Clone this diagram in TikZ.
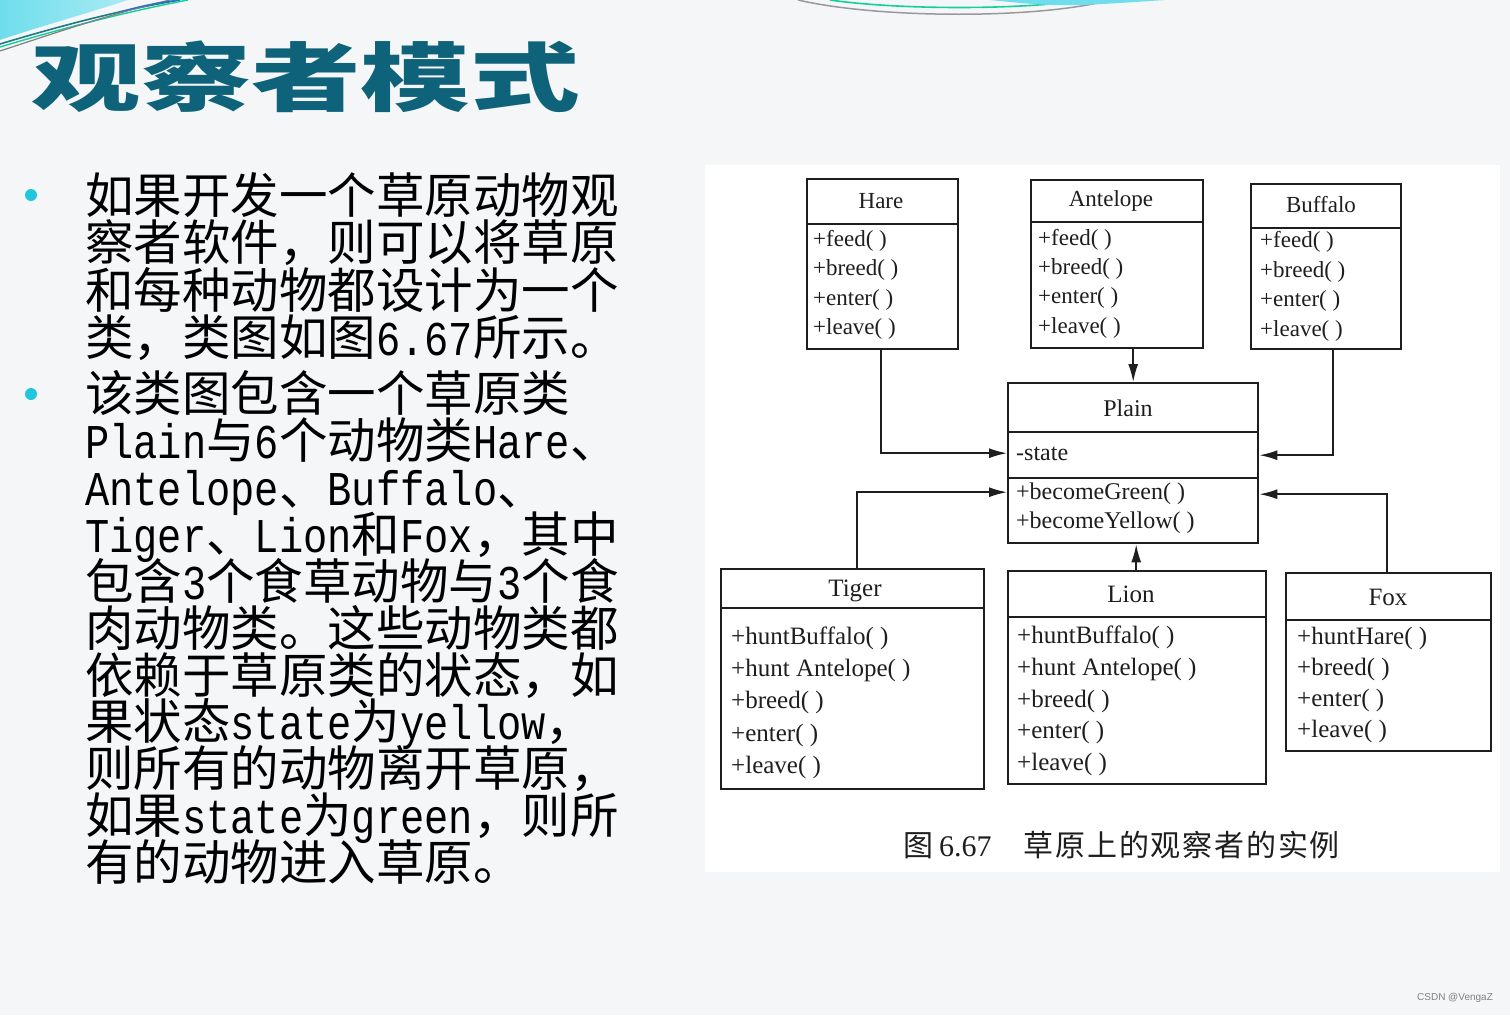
\documentclass[tikz,border=0pt]{standalone}
\usepackage{fontspec}
\usetikzlibrary{arrows.meta}
\newfontfamily\cjk{Noto Sans CJK SC}
\newfontfamily\hw[FakeStretch=0.833]{Liberation Mono}
\newfontfamily\umlf{Liberation Serif}
\newfontfamily\wmf{Liberation Sans}
\definecolor{titlec}{HTML}{0E6279}
\definecolor{bulletc}{HTML}{1FC6DC}
\definecolor{bgc}{HTML}{F4F6F7}
\definecolor{swcyan}{HTML}{6FDDEC}
\definecolor{swgreen}{HTML}{14CF98}
\definecolor{swteal}{HTML}{1C7C86}
\definecolor{swblue}{HTML}{2F6FD0}
\definecolor{ink}{HTML}{1E1E1E}
\begin{document}
\begin{tikzpicture}[x=1pt,y=-1pt,
  box/.style={draw=ink, line width=2.4pt, inner sep=0pt, anchor=north west},
  divl/.style={draw=ink, line width=2.4pt},
  cname/.style={font=\umlf\fontsize{23}{23}\selectfont, text=ink, inner sep=0pt},
  meth/.style={font=\umlf\fontsize{23}{23}\selectfont, anchor=west, inner sep=0pt, text=ink},
  bmeth/.style={font=\umlf\fontsize{25}{25}\selectfont, anchor=west, inner sep=0pt, text=ink},
  arr/.style={line width=1.6pt, draw=ink, -{Latex[length=18pt,width=10pt]}},
  body/.style={font=\cjk\fontsize{48.5}{48.5}\selectfont, anchor=base west, inner sep=0pt, text=black},
  bul/.style={circle, fill=bulletc, minimum size=12pt, inner sep=0pt},
]
\useasboundingbox (0,0) rectangle (1510,1015);
\fill[bgc] (0,0) rectangle (1510,1015);
\fill[white] (705,165) rectangle (1500,872);

% top-left swoosh
\shade[left color=swcyan, right color=swcyan!60] (0,0) -- (128,0) .. controls (85,14) and (35,28) .. (0,40) -- cycle;
\draw[swteal, line width=1.6pt] (0,44) .. controls (60,26) and (120,10) .. (180,0);
\draw[swgreen, line width=1.4pt] (0,47) .. controls (60,29) and (125,12) .. (188,0);
\draw[gray, line width=1.2pt] (0,51) .. controls (55,33) and (110,14) .. (170,0);
\draw[swblue, line width=1.2pt] (120,12) .. controls (140,6) and (160,2) .. (180,0);
% top-centre swoosh
\draw[gray!80, line width=1.5pt] (798,0) .. controls (880,19) and (1040,19) .. (1110,0);
\draw[swgreen, line width=1.6pt] (830,0) .. controls (900,10) and (1020,10) .. (1085,0);
\fill[swcyan] (990,0) .. controls (1060,7) .. (1165,0) -- cycle;

% title
\node[text=titlec, font=\cjk\bfseries\fontsize{85}{85}\selectfont, inner sep=0pt] (title) at (306,77) {\scalebox{1.29}[0.88]{观察者模式}};

% bullets
\node[bul] (b1) at (31,195) {};
\node[bul] (b2) at (31,394) {};

% body text
\node[body] (l1) at (85,213) {如果开发一个草原动物观};
\node[body] (l2) at (85,260) {察者软件，则可以将草原};
\node[body] (l3) at (85,308) {和每种动物都设计为一个};
\node[body] (l4) at (85,355) {类，类图如图{\hw 6.67}所示。};
\node[body] (l5) at (85,411) {该类图包含一个草原类};
\node[body] (l6) at (85,458) {{\hw Plain}与{\hw 6}个动物类{\hw Hare}、};
\node[body] (l7) at (85,505) {{\hw Antelope}、{\hw Buffalo}、};
\node[body] (l8) at (85,552) {{\hw Tiger}、{\hw Lion}和{\hw Fox}，其中};
\node[body] (l9) at (85,599) {包含{\hw 3}个食草动物与{\hw 3}个食};
\node[body] (l10) at (85,646) {肉动物类。这些动物类都};
\node[body] (l11) at (85,693) {依赖于草原类的状态，如};
\node[body] (l12) at (85,739) {果状态{\hw state}为{\hw yellow}，};
\node[body] (l13) at (85,786) {则所有的动物离开草原，};
\node[body] (l14) at (85,833) {如果{\hw state}为{\hw green}，则所};
\node[body] (l15) at (85,880) {有的动物进入草原。};

% ---------- class boxes ----------
% Hare
\node[box, minimum width=151pt, minimum height=170pt] (hare) at (806,178) {};
\draw[divl] (806,224) -- (957,224);
\node[cname] (hare-n) at (881,201) {Hare};
\node[meth] (hare-1) at (813,241) {+feed( )};
\node[meth] (hare-2) at (813,270) {+breed( )};
\node[meth] (hare-3) at (813,300) {+enter( )};
\node[meth] (hare-4) at (813,329) {+leave( )};
% Antelope
\node[box, minimum width=172pt, minimum height=168pt] (ante) at (1030,179) {};
\draw[divl] (1030,222) -- (1202,222);
\node[cname] (ante-n) at (1111,201) {Antelope};
\node[meth] (ante-1) at (1038,240) {+feed( )};
\node[meth] (ante-2) at (1038,269) {+breed( )};
\node[meth] (ante-3) at (1038,298) {+enter( )};
\node[meth] (ante-4) at (1038,328) {+leave( )};
% Buffalo
\node[box, minimum width=150pt, minimum height=165pt] (buff) at (1250,183) {};
\draw[divl] (1250,228) -- (1400,228);
\node[cname] (buff-n) at (1321,205) {Buffalo};
\node[meth] (buff-1) at (1260,242) {+feed( )};
\node[meth] (buff-2) at (1260,272) {+breed( )};
\node[meth] (buff-3) at (1260,301) {+enter( )};
\node[meth] (buff-4) at (1260,331) {+leave( )};
% Plain
\node[box, minimum width=250pt, minimum height=160pt] (plain) at (1007,382) {};
\draw[divl] (1007,432) -- (1257,432);
\draw[divl] (1007,478) -- (1257,478);
\node[cname, font=\umlf\fontsize{24}{24}\selectfont] (plain-n) at (1128,408) {Plain};
\node[meth, font=\umlf\fontsize{24}{24}\selectfont] (plain-a) at (1016,454) {-state};
\node[meth, font=\umlf\fontsize{24}{24}\selectfont] (plain-1) at (1016,494) {+becomeGreen( )};
\node[meth, font=\umlf\fontsize{24}{24}\selectfont] (plain-2) at (1016,523) {+becomeYellow( )};
% Tiger
\node[box, minimum width=263pt, minimum height=220pt] (tiger) at (720,568) {};
\draw[divl] (720,608) -- (983,608);
\node[cname, font=\umlf\fontsize{25}{25}\selectfont] (tiger-n) at (855,591) {Tiger};
\node[bmeth] (tiger-1) at (731,638) {+huntBuffalo( )};
\node[bmeth] (tiger-2) at (731,670) {+hunt Antelope( )};
\node[bmeth] (tiger-3) at (731,702) {+breed( )};
\node[bmeth] (tiger-4) at (731,735) {+enter( )};
\node[bmeth] (tiger-5) at (731,767) {+leave( )};
% Lion
\node[box, minimum width=258pt, minimum height=213pt] (lion) at (1007,570) {};
\draw[divl] (1007,617) -- (1265,617);
\node[cname, font=\umlf\fontsize{25}{25}\selectfont] (lion-n) at (1131,594) {Lion};
\node[bmeth] (lion-1) at (1017,637) {+huntBuffalo( )};
\node[bmeth] (lion-2) at (1017,669) {+hunt Antelope( )};
\node[bmeth] (lion-3) at (1017,701) {+breed( )};
\node[bmeth] (lion-4) at (1017,732) {+enter( )};
\node[bmeth] (lion-5) at (1017,764) {+leave( )};
% Fox
\node[box, minimum width=205pt, minimum height=178pt] (fox) at (1285,572) {};
\draw[divl] (1285,620) -- (1490,620);
\node[cname, font=\umlf\fontsize{25}{25}\selectfont] (fox-n) at (1388,597) {Fox};
\node[bmeth] (fox-1) at (1297,638) {+huntHare( )};
\node[bmeth] (fox-2) at (1297,669) {+breed( )};
\node[bmeth] (fox-3) at (1297,700) {+enter( )};
\node[bmeth] (fox-4) at (1297,731) {+leave( )};

% ---------- connectors ----------
\draw[arr] ([xshift=-1.5pt]hare.south) |- ([yshift=10pt]plain.west);
\draw[arr] (ante.south -| plain.north) -- (plain.north);
\draw[arr] ([xshift=7pt]buff.south) |- ([yshift=8pt]plain.east);
\draw[arr] ([xshift=4pt]tiger.north) |- ([yshift=-29pt]plain.west);
\draw[arr] ([xshift=-1pt]lion.north) -- ([xshift=3pt]plain.south);
\draw[arr] ([xshift=-1.5pt]fox.north) |- ([yshift=-31pt]plain.east);

% caption
\node[font=\cjk\fontsize{30}{30}\selectfont, anchor=west, inner sep=0pt, text=ink] (cap) at (903,845) {图\hspace{6pt}{\umlf 6.67}\hspace{32pt}{\addfontfeatures{LetterSpace=6}草原上的观察者的实例}};

% watermark
\node[font=\wmf\fontsize{10}{10}\selectfont, text=gray, inner sep=0pt] (wm) at (1455,998) {CSDN @VengaZ};
\end{tikzpicture}
\end{document}
